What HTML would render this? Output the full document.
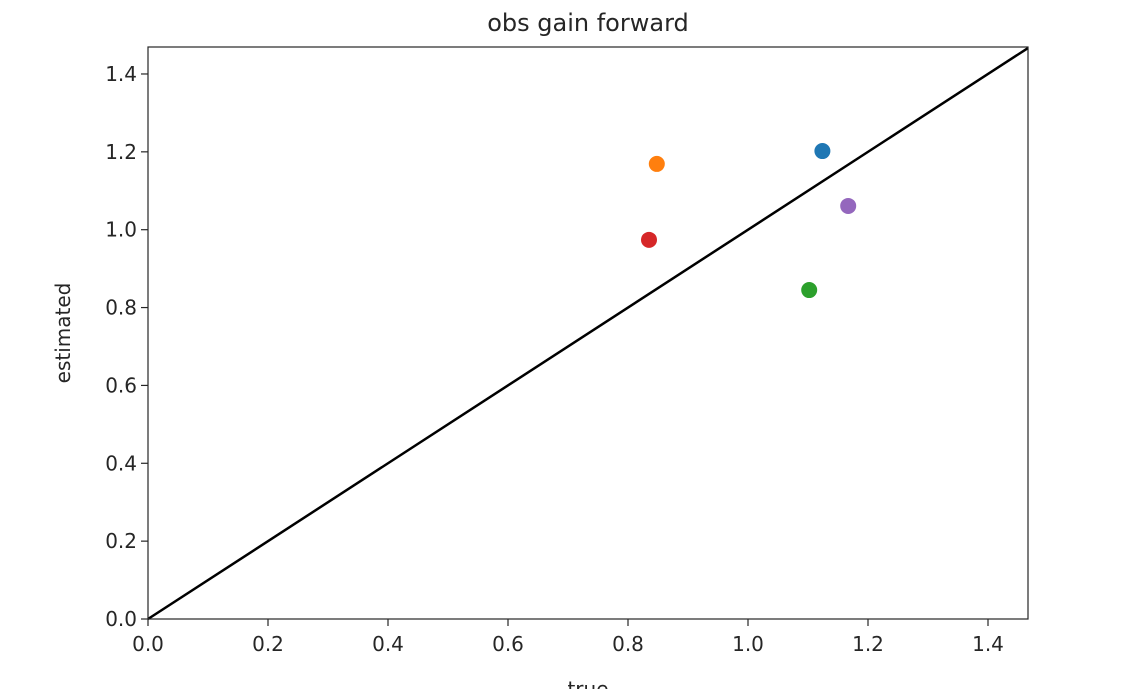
<!DOCTYPE html>
<html><head><meta charset="utf-8"><style>
body{margin:0;background:#fff;}
svg text{font-family:"DejaVu Sans","Liberation Sans",sans-serif;fill:#262626;}
</style></head><body>
<svg width="1148" height="689" viewBox="0 0 1148 689" xmlns="http://www.w3.org/2000/svg">
<g id="plot"></g>
</svg>
<script>
const xs=[1.124,0.848,1.102,0.835,1.167];
const ys=[1.202,1.169,0.845,0.974,1.061];
const colors=['#1f77b4','#ff7f0e','#2ca02c','#d62728','#9467bd'];
const ticks=[0,0.2,0.4,0.6,0.8,1.0,1.2,1.4];
const tickLabels=['0.0','0.2','0.4','0.6','0.8','1.0','1.2','1.4'];
const L=148,R=1028,T=47,B=619,xmax=(R-L)/600,ymax=(B-T)/389.3;
const X=v=>L+v/xmax*(R-L), Y=v=>B-v/ymax*(B-T);
const svg=document.querySelector('svg'),ns='http://www.w3.org/2000/svg';
function mk(t,a,p){const e=document.createElementNS(ns,t);for(const k in a)e.setAttribute(k,a[k]);(p||svg).appendChild(e);return e;}
const lim=Math.min(xmax,ymax);
let d=mk('line',{x1:X(0),y1:Y(0),x2:X(lim),y2:Y(lim),stroke:'#000','stroke-width':2.5});

xs.forEach((v,i)=>{const c=mk('circle',{cx:X(v),cy:Y(ys[i]),r:8,fill:colors[i]});

});
const f=mk('rect',{x:L,y:T,width:R-L,height:B-T,fill:'none',stroke:'#262626','stroke-width':1.2});

ticks.forEach((t,i)=>{
 mk('line',{x1:X(t),y1:B,x2:X(t),y2:B+7,stroke:'#262626','stroke-width':1.2});
 const tx=mk('text',{x:X(t),y:B+32,'text-anchor':'middle','font-size':20});tx.textContent=tickLabels[i];
 
 mk('line',{x1:L-7,y1:Y(t),x2:L,y2:Y(t),stroke:'#262626','stroke-width':1.2});
 const ty=mk('text',{x:L-11,y:Y(t)+7,'text-anchor':'end','font-size':20});ty.textContent=tickLabels[i];
 
});
let t=mk('text',{x:(L+R)/2,y:31,'text-anchor':'middle','font-size':24});t.textContent='obs gain forward';

t=mk('text',{x:(L+R)/2,y:696,'text-anchor':'middle','font-size':20});t.textContent='true';

t=mk('text',{x:0,y:0,'text-anchor':'middle','font-size':20,transform:'translate(70,'+((T+B)/2)+') rotate(-90)'});t.textContent='estimated';

</script>
</body></html>
